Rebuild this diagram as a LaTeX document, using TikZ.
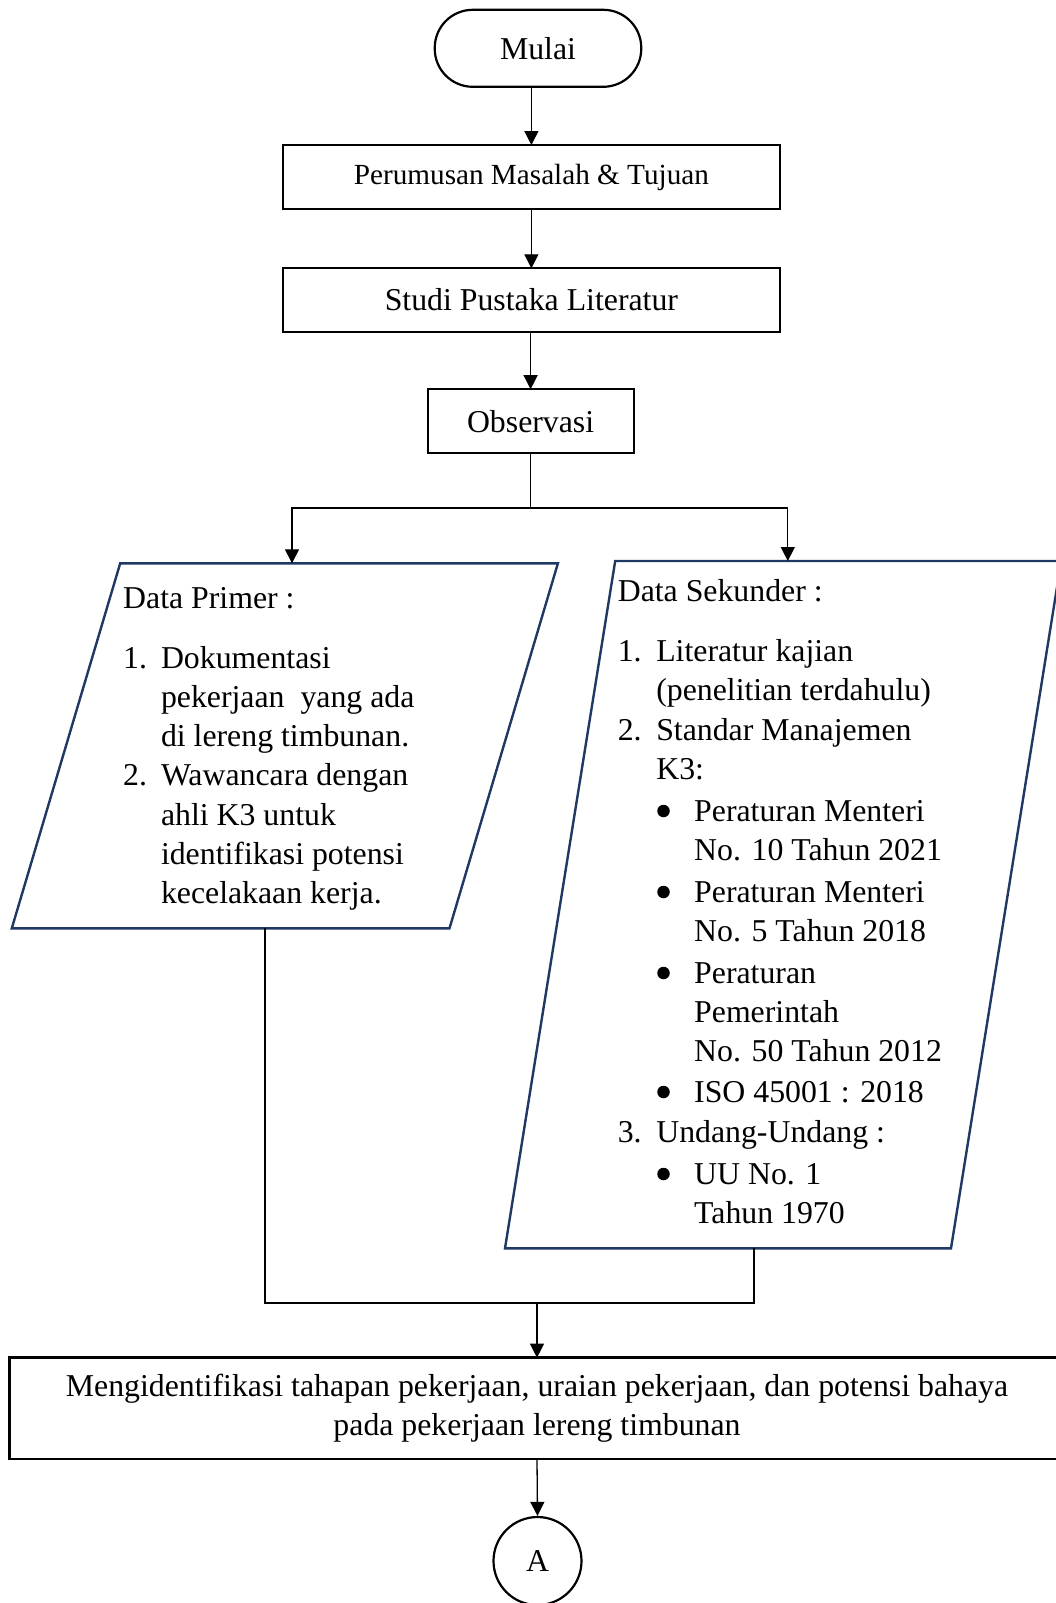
\documentclass[tikz,border=0pt]{standalone}
\usepackage{fontspec}
\setmainfont{Liberation Serif}
\usetikzlibrary{arrows.meta}
\definecolor{navy}{RGB}{31,56,100}
\begin{document}
\begin{tikzpicture}[x=1pt,y=-1pt,
  box/.style={draw=black, line width=2.2pt, rectangle, inner sep=0pt, outer sep=0pt,
    font=\fontsize{31.8}{39}\selectfont, align=center},
  conn/.style={draw=black, line width=1.3pt},
  arr/.style={conn, -{Triangle[width=14pt,length=14pt]}},
  para/.style={draw=navy, line width=2.4pt, line join=miter},
  txt/.style={anchor=base west, inner sep=0pt, outer sep=0pt, font=\fontsize{31.8}{39}\selectfont},
  dot/.style={circle, fill=black, minimum size=12.5pt, inner sep=0pt, outer sep=0pt},
]
\fill[white] (0,0) rectangle (1056,1603);
\useasboundingbox (0,0) rectangle (1056,1603);
\clip (0,0) rectangle (1056,1603);

% main column
\node[box, rounded corners=38pt, minimum width=206.5pt, minimum height=77pt] (mulai) at (538,48.3) {Mulai};
\node[box, minimum width=497pt, minimum height=64pt, font=\fontsize{29.2}{35}\selectfont] (perum) at (531.4,177) {Perumusan Masalah \& Tujuan};
\node[box, minimum width=497pt, minimum height=63.4pt] (studi) at (531.4,300) {Studi Pustaka Literatur};
\node[box, minimum width=206pt, minimum height=64pt] (obs) at (530.6,421.2) {Observasi};

\draw[arr] (perum.north |- mulai.south) -- (perum.north);
\draw[arr] (perum.south) -- (studi.north);
\draw[arr] (studi.south -| obs.north) -- (obs.north);

% parallelograms
\draw[para] (120.2,563.3) -- (557.9,563.3) -- (449.5,928.3) -- (11.8,928.3) -- cycle;
\draw[para] (615.2,561) -- (1061.2,561) -- (951,1248.3) -- (505,1248.3) -- cycle;
\coordinate (prim-in) at (292,563.3);
\coordinate (prim-out) at (265,928.3);
\coordinate (sek-in) at (787.8,561);
\coordinate (sek-out) at (754,1248.3);

\coordinate (split) at (530.6,508);
\draw[conn] (obs.south) -- (split);
\draw[arr] (split) -| (prim-in);
\draw[arr] (split) -| (sek-in);

% Data Primer text
\node[txt] (p0) at (123.2,608.3) {Data Primer :};
\node[txt] (p1n) at (123.2,668.3) {1.};
\node[txt] (p1a) at (161,668.3) {Dokumentasi};
\node[txt] (p1b) at (161,707.5) {pekerjaan\ \ yang ada};
\node[txt] (p1c) at (161,746.7) {di lereng timbunan.};
\node[txt] (p2n) at (123.2,785.9) {2.};
\node[txt] (p2a) at (161,785.9) {Wawancara dengan};
\node[txt] (p2b) at (161,825.1) {ahli K3 untuk};
\node[txt] (p2c) at (161,864.3) {identifikasi potensi};
\node[txt] (p2d) at (161,903.5) {kecelakaan kerja.};

% Data Sekunder text
\node[txt] (s0) at (617.8,601) {Data Sekunder :};
\node[txt] (s1n) at (617.8,661.4) {1.};
\node[txt] (s1a) at (656.3,661.4) {Literatur kajian};
\node[txt] (s1b) at (656.3,700) {(penelitian terdahulu)};
\node[txt] (s2n) at (617.8,740) {2.};
\node[txt] (s2a) at (656.3,740) {Standar Manajemen};
\node[txt] (s2b) at (656.3,779) {K3:};
\node[dot] (b1) at (663.5,811) {};
\node[txt] (b1a) at (694.2,821) {Peraturan Menteri};
\node[txt] (b1b) at (694.2,860) {No. 10 Tahun 2021};
\node[dot] (b2) at (663.5,892) {};
\node[txt] (b2a) at (694.2,902) {Peraturan Menteri};
\node[txt] (b2b) at (694.2,941) {No. 5 Tahun 2018};
\node[dot] (b3) at (663.5,973) {};
\node[txt] (b3a) at (694.2,983) {Peraturan};
\node[txt] (b3b) at (694.2,1022) {Pemerintah};
\node[txt] (b3c) at (694.2,1061) {No. 50 Tahun 2012};
\node[dot] (b4) at (663.5,1092) {};
\node[txt] (b4a) at (694.2,1102) {ISO 45001 : 2018};
\node[txt] (s3n) at (617.8,1142) {3.};
\node[txt] (s3a) at (656.3,1142) {Undang-Undang :};
\node[dot] (b5) at (663.5,1174) {};
\node[txt] (b5a) at (694.2,1184) {UU No. 1};
\node[txt] (b5b) at (694.2,1223) {Tahun 1970};

% merge
\node[box, line width=2.8pt, minimum width=1055pt, minimum height=101.3pt] (ident) at (537,1408.3)
  {Mengidentifikasi tahapan pekerjaan, uraian pekerjaan, dan potensi bahaya\\pada pekerjaan lereng timbunan};
\coordinate (merge) at (537,1303);
\draw[conn] (prim-out) |- (merge);
\draw[conn] (sek-out) |- (merge);
\draw[arr] (merge) -- (ident.north);

\node[draw=black, circle, line width=2.2pt, minimum size=88pt, inner sep=0pt,
  font=\fontsize{31.8}{39}\selectfont] (A) at (537.5,1561) {A};
\draw[arr] (ident.south) -- (A.north);
\end{tikzpicture}
\end{document}
